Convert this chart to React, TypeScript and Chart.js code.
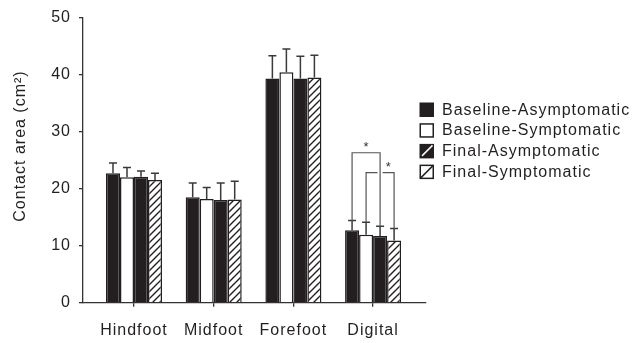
import React, { useEffect, useRef } from "react";
import { Chart, registerables } from "chart.js";

Chart.register(...registerables);

// Foot regions along the x axis
const regions = ["Hindfoot", "Midfoot", "Forefoot", "Digital"];

// Group names (legend order)
const groups = [
  "Baseline-Asymptomatic",
  "Baseline-Symptomatic",
  "Final-Asymptomatic",
  "Final-Symptomatic",
];

// Mean contact area (cm²) per region
const baselineAsymptomatic = [22.7, 18.5, 39.3, 12.7];
const baselineSymptomatic = [22.0, 18.2, 40.4, 11.9];
const finalAsymptomatic = [22.1, 18.0, 39.3, 11.7];
const finalSymptomatic = [21.5, 18.1, 39.5, 10.9];

// Upper error (SD) per region
const baselineAsymptomaticSD = [1.8, 2.5, 4.0, 1.7];
const baselineSymptomaticSD = [1.7, 2.0, 4.1, 2.2];
const finalAsymptomaticSD = [1.0, 3.0, 3.9, 1.7];
const finalSymptomaticSD = [1.2, 3.2, 3.9, 2.1];

// Y axis
const yTicks = [0, 10, 20, 30, 40, 50];
const yTitle = "Contact area (cm²)";

// Significance brackets: region index, group pair, bracket height (cm²)
const sigRegion = [3, 3];
const sigFrom = [0, 1];
const sigTo = [2, 3];
const sigLevel = [26.3, 22.8];

const INK = "#231f20";
const AXIS = "#333333";
const FONT = "'Liberation Sans', Arial, Helvetica, sans-serif";

function makeHatch(): CanvasPattern | string {
  const c = document.createElement("canvas");
  const s = 7;
  c.width = s;
  c.height = s;
  const g = c.getContext("2d");
  if (!g) return "#fff";
  g.fillStyle = "#ffffff";
  g.fillRect(0, 0, s, s);
  g.strokeStyle = INK;
  g.lineWidth = 1.4;
  g.beginPath();
  g.moveTo(0, s);
  g.lineTo(s, 0);
  g.moveTo(-1, 1);
  g.lineTo(1, -1);
  g.moveTo(s - 1, s + 1);
  g.lineTo(s + 1, s - 1);
  g.stroke();
  const p = g.createPattern(c, "repeat");
  return p || "#fff";
}

export default function App() {
  const ref = useRef<HTMLCanvasElement | null>(null);

  useEffect(() => {
    const canvas = ref.current;
    if (!canvas) return;

    const means = [baselineAsymptomatic, baselineSymptomatic, finalAsymptomatic, finalSymptomatic];
    const sds = [baselineAsymptomaticSD, baselineSymptomaticSD, finalAsymptomaticSD, finalSymptomaticSD];
    const hatch = makeHatch();
    const fills: (string | CanvasPattern)[] = [INK, "#ffffff", INK, hatch];

    const textSpacing = {
      id: "textSpacing",
      beforeDraw(chart: any) {
        chart.ctx.letterSpacing = "1px";
      },
    };

    const errorBars = {
      id: "errorBars",
      afterDatasetsDraw(chart: any) {
        const ctx = chart.ctx;
        const yScale = chart.scales.y;
        ctx.save();
        ctx.strokeStyle = "#3a3a3a";
        ctx.lineWidth = 1.5;
        chart.data.datasets.forEach((ds: any, i: number) => {
          const meta = chart.getDatasetMeta(i);
          meta.data.forEach((el: any, j: number) => {
            const top = yScale.getPixelForValue(means[i][j] + sds[i][j]);
            ctx.beginPath();
            ctx.moveTo(el.x, el.y);
            ctx.lineTo(el.x, top);
            ctx.moveTo(el.x - 4, top);
            ctx.lineTo(el.x + 4, top);
            ctx.stroke();
          });
        });
        ctx.restore();
      },
    };

    const brackets = {
      id: "brackets",
      afterDatasetsDraw(chart: any) {
        const ctx = chart.ctx;
        const yScale = chart.scales.y;
        const drawn: { x: number; y0: number; y1: number }[] = [];
        ctx.save();
        ctx.strokeStyle = "#555555";
        ctx.lineWidth = 1.2;
        sigLevel.forEach((level, k) => {
          const r = sigRegion[k];
          const a = sigFrom[k];
          const b = sigTo[k];
          const x1 = chart.getDatasetMeta(a).data[r].x;
          const x2 = chart.getDatasetMeta(b).data[r].x;
          const yTop = yScale.getPixelForValue(level);
          const y1 = yScale.getPixelForValue(means[a][r] + sds[a][r]);
          const y2 = yScale.getPixelForValue(means[b][r] + sds[b][r]);
          // horizontal, broken where it crosses an earlier bracket's leg
          const cuts = drawn
            .filter((d) => d.x > x1 && d.x < x2 && yTop > d.y0 && yTop < d.y1)
            .map((d) => d.x)
            .sort((m, n) => m - n);
          ctx.beginPath();
          ctx.moveTo(x1, y1);
          ctx.lineTo(x1, yTop);
          let segStart = x1;
          cuts.forEach((c) => {
            ctx.lineTo(c - 2.5, yTop);
            ctx.moveTo(c + 2.5, yTop);
            segStart = c + 2.5;
          });
          ctx.lineTo(x2, yTop);
          ctx.lineTo(x2, y2);
          ctx.stroke();
          drawn.push({ x: x1, y0: yTop, y1: y1 });
          drawn.push({ x: x2, y0: yTop, y1: y2 });
          ctx.fillStyle = "#333333";
          ctx.font = `13px ${FONT}`;
          ctx.textAlign = "center";
          ctx.textBaseline = "middle";
          ctx.fillText("*", (segStart + x2) / 2 + 0.5, yTop - 5);
        });
        ctx.restore();
      },
    };

    const sideLegend = {
      id: "sideLegend",
      afterDraw(chart: any) {
        const ctx = chart.ctx;
        const lx = 419.5;
        const ly = 102.5;
        const step = 20.7;
        const box = 14.5;
        ctx.save();
        chart.data.datasets.forEach((ds: any, i: number) => {
          const y = ly + i * step;
          ctx.lineWidth = 1.5;
          ctx.strokeStyle = INK;
          if (i === 0) {
            ctx.fillStyle = INK;
            ctx.fillRect(lx, y, box, box);
          } else if (i === 1) {
            ctx.fillStyle = "#fff";
            ctx.fillRect(lx, y, box, box);
            ctx.strokeRect(lx + 0.75, y + 0.75, box - 1.5, box - 1.5);
          } else if (i === 2) {
            ctx.fillStyle = INK;
            ctx.fillRect(lx, y, box, box);
            ctx.strokeStyle = "#fff";
            ctx.beginPath();
            ctx.moveTo(lx + 2.5, y + box - 2.5);
            ctx.lineTo(lx + box - 1.5, y + 1.5);
            ctx.stroke();
          } else {
            ctx.fillStyle = "#fff";
            ctx.fillRect(lx, y, box, box);
            ctx.strokeRect(lx + 0.75, y + 0.75, box - 1.5, box - 1.5);
            ctx.beginPath();
            ctx.moveTo(lx + 1, y + box - 1);
            ctx.lineTo(lx + box - 1, y + 1);
            ctx.stroke();
          }
          ctx.fillStyle = INK;
          ctx.font = `16px ${FONT}`;
          ctx.textAlign = "left";
          ctx.textBaseline = "middle";
          ctx.fillText(ds.label, 442, y + box / 2 + 0.5);
        });
        ctx.restore();
      },
    };

    const axisTitle = {
      id: "axisTitle",
      afterDraw(chart: any) {
        const ctx = chart.ctx;
        ctx.save();
        ctx.translate(21, 146);
        ctx.rotate(-Math.PI / 2);
        ctx.fillStyle = INK;
        ctx.font = `16px ${FONT}`;
        ctx.textAlign = "center";
        ctx.textBaseline = "middle";
        ctx.fillText(yTitle, 0, 0);
        ctx.restore();
      },
    };

    const chart = new Chart(canvas, {
      type: "bar",
      data: {
        datasets: groups.map((g, i) => ({
          label: g,
          data: means[i].map((v, j) => ({ x: j, y: v })),
          backgroundColor: fills[i] as any,
          borderColor: INK,
          borderWidth: 1.5,
        })),
      },
      options: {
        responsive: false,
        animation: false,
        layout: { padding: { left: 0, right: 208, top: 16, bottom: 0 } },
        datasets: { bar: { categoryPercentage: 0.703, barPercentage: 1 } } as any,
        plugins: {
          legend: { display: false },
          tooltip: { enabled: false },
        },
        scales: {
          x: {
            type: "linear",
            offset: false,
            min: -0.64,
            max: 3.664,
            afterBuildTicks: (s: any) => {
              s.ticks = regions.map((_, i) => ({ value: i }));
            },
            afterFit: (s: any) => {
              s.height = 40.3;
            },
            ticks: {
              callback: (v: any) => regions[Math.round(Number(v))] ?? "",
              color: INK,
              font: { family: FONT, size: 16 },
              padding: 14,
              maxRotation: 0,
              autoSkip: false,
            },
            grid: {
              offset: false,
              drawOnChartArea: false,
              drawTicks: true,
              tickLength: 4,
              color: AXIS,
              lineWidth: 1.3,
            },
            border: { display: true, color: AXIS, width: 1.3 },
          },
          y: {
            min: 0,
            max: 50,
            afterBuildTicks: (s: any) => {
              s.ticks = yTicks.map((v) => ({ value: v }));
            },
            afterFit: (s: any) => {
              s.width = 83;
            },
            ticks: {
              color: INK,
              font: { family: FONT, size: 16 },
              padding: 8,
            },
            grid: {
              drawOnChartArea: false,
              drawTicks: true,
              tickLength: 4,
              color: AXIS,
              lineWidth: 1.3,
            },
            border: { display: true, color: AXIS, width: 1.3 },
          },
        },
      },
      plugins: [textSpacing, errorBars, brackets, sideLegend, axisTitle],
    });

    return () => chart.destroy();
  }, []);

  return (
    <div style={{ position: "fixed", left: 0, top: 0, width: 634, height: 343, background: "#fff" }}>
      <canvas ref={ref} width={634} height={343} style={{ display: "block" }} />
    </div>
  );
}
